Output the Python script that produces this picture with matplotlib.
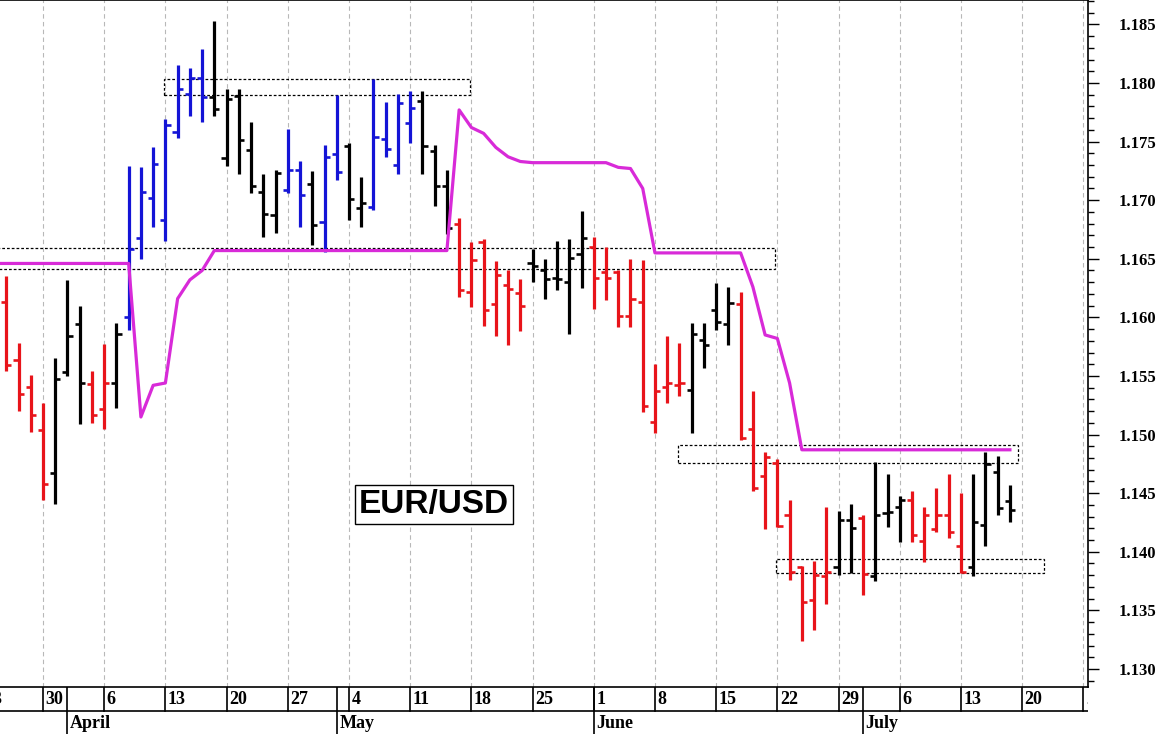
import matplotlib
matplotlib.use("Agg")
import matplotlib.pyplot as plt
from matplotlib.ticker import MultipleLocator
from matplotlib.patches import Rectangle
import numpy as np

# EUR/USD daily bars, Wed 25 Mar .. Fri 17 Jul (weekdays, one index per day)
opens = [1.1613, 1.1564, 1.1541, 1.1504, 1.1467, 1.1553, 1.1594, 1.1543, 1.1522, 1.1544,
         1.1600, 1.1668, 1.1702, 1.1683, 1.1758, 1.1791, 1.1804, 1.1788, 1.1736, 1.1789,
         1.1743, 1.1707, 1.1687, 1.1709, 1.1726, 1.1714, 1.1681, 1.1739, 1.1746, 1.1693,
         1.1694, 1.1752, 1.1730, 1.1766, 1.1785, 1.1742, 1.1712, 1.1680, 1.1622, 1.1664,
         1.1611, 1.1628, 1.1621, 1.1646, 1.1640, 1.1634, 1.1630, 1.1654, 1.1660, 1.1639,
         1.1639, 1.1601, 1.1613, 1.1511, 1.1541, 1.1542, 1.1538, 1.1581, 1.1606, 1.1594,
         1.1611, 1.1505, 1.1465, 1.1476, 1.1431, 1.1387, 1.1359, 1.1379, 1.1387, 1.1427,
         1.1429, 1.1379, 1.1433, 1.1438, 1.1444, 1.1409, 1.1419, 1.1431, 1.1405, 1.1387,
         1.1423, 1.1468, 1.1443]
highs = [1.1635, 1.1578, 1.1551, 1.1527, 1.1565, 1.1632, 1.1610, 1.1554, 1.1577, 1.1595,
         1.1729, 1.1728, 1.1745, 1.1769, 1.1815, 1.1813, 1.1829, 1.1853, 1.1795, 1.1795,
         1.1767, 1.1722, 1.1726, 1.1761, 1.1733, 1.1725, 1.1747, 1.1790, 1.1749, 1.1720,
         1.1803, 1.1784, 1.1791, 1.1793, 1.1793, 1.1747, 1.1726, 1.1685, 1.1664, 1.1667,
         1.1648, 1.1640, 1.1633, 1.1658, 1.1650, 1.1665, 1.1667, 1.1691, 1.1669, 1.1660,
         1.1640, 1.1650, 1.1649, 1.1560, 1.1584, 1.1578, 1.1595, 1.1595, 1.1629, 1.1626,
         1.1622, 1.1537, 1.1485, 1.1479, 1.1444, 1.1388, 1.1392, 1.1438, 1.1435, 1.1441,
         1.1431, 1.1477, 1.1466, 1.1448, 1.1452, 1.1438, 1.1454, 1.1466, 1.1450, 1.1466,
         1.1485, 1.1482, 1.1457]
lows = [1.1554, 1.1520, 1.1502, 1.1444, 1.1441, 1.1550, 1.1509, 1.1510, 1.1505, 1.1523,
        1.1589, 1.1650, 1.1677, 1.1665, 1.1753, 1.1772, 1.1767, 1.1772, 1.1729, 1.1722,
        1.1706, 1.1669, 1.1672, 1.1706, 1.1677, 1.1662, 1.1656, 1.1717, 1.1683, 1.1677,
        1.1692, 1.1737, 1.1722, 1.1749, 1.1722, 1.1695, 1.1671, 1.1617, 1.1609, 1.1593,
        1.1584, 1.1576, 1.1588, 1.1630, 1.1616, 1.1623, 1.1586, 1.1625, 1.1607, 1.1615,
        1.1592, 1.1592, 1.1519, 1.1501, 1.1527, 1.1533, 1.1501, 1.1557, 1.1589, 1.1576,
        1.1495, 1.1452, 1.1419, 1.1421, 1.1376, 1.1324, 1.1333, 1.1355, 1.1380, 1.1382,
        1.1363, 1.1375, 1.1421, 1.1408, 1.1408, 1.1391, 1.1417, 1.1412, 1.1382, 1.1379,
        1.1405, 1.1431, 1.1425]
closes = [1.1559, 1.1535, 1.1517, 1.1458, 1.1547, 1.1584, 1.1544, 1.1517, 1.1544, 1.1586,
          1.1658, 1.1707, 1.1731, 1.1764, 1.1795, 1.1804, 1.1788, 1.1778, 1.1786, 1.1751,
          1.1712, 1.1688, 1.1723, 1.1726, 1.1704, 1.1679, 1.1737, 1.1724, 1.1701, 1.1698,
          1.1754, 1.1744, 1.1783, 1.1779, 1.1746, 1.1712, 1.1676, 1.1623, 1.1649, 1.1606,
          1.1636, 1.1624, 1.1610, 1.1644, 1.1633, 1.1633, 1.1651, 1.1668, 1.1634, 1.1634,
          1.1601, 1.1616, 1.1524, 1.1537, 1.1544, 1.1544, 1.1586, 1.1576, 1.1596, 1.1612,
          1.1497, 1.1454, 1.1481, 1.1422, 1.1383, 1.1357, 1.1380, 1.1383, 1.1427, 1.1420,
          1.1381, 1.1431, 1.1434, 1.1444, 1.1414, 1.1431, 1.1431, 1.1417, 1.1383, 1.1425,
          1.1475, 1.1437, 1.1436]
# bar colour state: R red, K black, B blue
states = ("RRRR" "KKK" "RR" "K" "BBBBBBB" "KKKKKK" "BB" "K" "BB" "KK" "BBBB" "KKK"
          "RRRRRR" "KKKKK" "RRRRRRRR" "KKKK" "RRRRRRRR" "KK" "R" "KKK" "RRRRR" "KKKK")

# magenta stop line, starts one day before the first bar
stop_line = [1.1646] * 12 + [1.1515, 1.1542, 1.1544, 1.1616, 1.1632, 1.1640] \
    + [1.1657] * 20 + [1.1777, 1.1762, 1.1757, 1.1745, 1.1737, 1.1733] \
    + [1.1732] * 7 + [1.1728, 1.1727, 1.1710] + [1.1655] * 8 \
    + [1.1626, 1.1585, 1.1582, 1.1544] + [1.1487] * 18

# dotted zones: (first day, last day, low, high)
zone_start = [12.9, -2.0, 54.9, 62.9]
zone_end = [37.9, 62.8, 82.7, 84.8]
zone_low = [1.1790, 1.1641, 1.1476, 1.1382]
zone_high = [1.1803, 1.1659, 1.1491, 1.1394]

# calendar axis
week_labels = ["23", "30", "6", "13", "20", "27", "4", "11", "18", "25",
               "1", "8", "15", "22", "29", "6", "13", "20", "27"]
first_monday = -2
month_labels = ["April", "May", "June", "July"]
month_first_day = [5, 27, 48, 70]

col_map = {"R": "#e8141a", "K": "#000000", "B": "#1414d6"}

W, H = 1159, 734
fig = plt.figure(figsize=(W / 100, H / 100), dpi=100)
ax = fig.add_axes([0, 47 / H, 1088 / W, 687 / H])
xlim = (-0.513, 88.38)

x = np.arange(len(opens))
mondays = first_monday + 5 * np.arange(len(week_labels))

# week grid (set ticks before limits, set_xticks widens the view)
ax.set_xticks(mondays)
ax.set_xlim(*xlim)
ax.set_ylim(1.12846, 1.18708)
ax.tick_params(axis="x", length=0, labelbottom=False)
ax.grid(axis="x", color="#b8b8b8", linestyle=(0, (4, 3)), lw=0.8)
ax.set_axisbelow(True)

# zones
for x0, x1, lo, hi in zip(zone_start, zone_end, zone_low, zone_high):
    ax.add_patch(Rectangle((x0, lo), x1 - x0, hi - lo, fill=False, ec="black",
                           lw=0.9, ls=(0, (2.2, 1.6)), zorder=2))

# OHLC bars
cols = [col_map[s] for s in states]
ax.vlines(x, lows, highs, colors=cols, lw=2.3, zorder=3)
ax.hlines(opens, x - 0.42, x, colors=cols, lw=1.9, zorder=3)
ax.hlines(closes, x, x + 0.42, colors=cols, lw=1.9, zorder=3)

ax.plot(np.arange(-1, len(opens)), stop_line, color="#d82ad8", lw=2.3, zorder=4)

ax.text(0.399, 0.266, "EUR/USD", transform=ax.transAxes, ha="center", va="center",
        fontsize=24, fontweight="bold", family="Liberation Sans", zorder=5,
        bbox=dict(boxstyle="square,pad=0.12", fc="white", ec="black", lw=1))

# price axis on the right
ax.yaxis.tick_right()
ax.yaxis.set_major_locator(MultipleLocator(0.005))
ax.yaxis.set_minor_locator(MultipleLocator(0.001))
ax.yaxis.set_major_formatter(plt.FuncFormatter(lambda v, p: f"{v:.3f}"))
ax.tick_params(axis="y", which="major", direction="out", length=8, width=1, pad=14,
               labelsize=12)
ax.tick_params(axis="y", which="minor", direction="out", length=4, width=1)
for lab in ax.get_yticklabels():
    lab.set_fontfamily("Liberation Serif")
    lab.set_fontweight("bold")
ax.spines["left"].set_visible(False)
for s in ["top", "right", "bottom"]:
    ax.spines[s].set_linewidth(1.2)

# two-row date axis
axb = fig.add_axes([0, 0, 1088 / W, 47 / H])
axb.set_xlim(*xlim)
axb.set_ylim(0, 47)
axb.axis("off")
axb.axhline(23, color="black", lw=1.2)
for m, lab in zip(mondays, week_labels):
    axb.plot([m, m], [23, 47], color="black", lw=1.2)
    axb.text(m + 0.2, 35, lab, ha="left", va="center", fontsize=13, fontweight="bold",
             family="Liberation Serif", clip_on=True)
for m, lab in zip(month_first_day, month_labels):
    axb.plot([m, m], [0, 47], color="black", lw=1.2)
    axb.text(m + 0.2, 11, lab, ha="left", va="center", fontsize=13, fontweight="bold",
             family="Liberation Serif", clip_on=True)
axb.set_xlim(*xlim)

plt.savefig("out.png", dpi=100)
